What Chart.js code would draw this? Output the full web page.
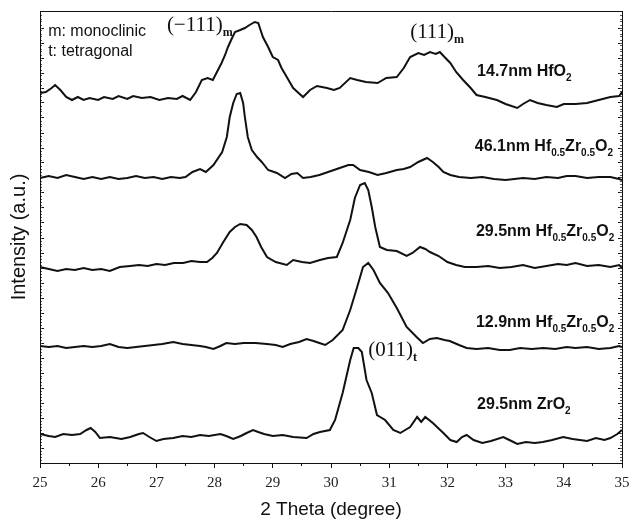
<!DOCTYPE html>
<html>
<head>
<meta charset="utf-8">
<script src="https://cdn.jsdelivr.net/npm/chart.js@4/dist/chart.umd.min.js"></script>
<style>
html,body{margin:0;padding:0;background:#fff}
#wrap{width:632px;height:521px;position:relative}
</style>
</head>
<body>
<div id="wrap"><canvas id="c"></canvas></div>
<script>
// ---- data (2θ in degrees, intensity in arbitrary units, traces offset vertically as in the figure) ----
const xTickLabels = ['25','26','27','28','29','30','31','32','33','34','35'];
const xAxisTitle = '2 Theta (degree)';
const yAxisTitle = 'Intensity (a.u.)';

const hfo2_14_7nm = [
[25.0,370],[25.1,371],[25.2,375],[25.26,378],[25.35,373],[25.45,366],[25.55,363],[25.65,366],[25.75,363],[25.85,365],
[26.0,363],[26.1,366],[26.25,364],[26.35,367],[26.5,364],[26.6,367],[26.75,365],[26.9,366],[27.05,363],[27.2,365],
[27.35,364],[27.45,367],[27.58,363],[27.68,371],[27.78,383],[27.88,385],[27.97,383],[28.04,391],[28.12,400],[28.18,408],
[28.23,416],[28.3,425],[28.35,431],[28.44,433],[28.52,435],[28.6,438],[28.69,441],[28.75,440],[28.83,426],[28.92,416],
[29.0,406],[29.09,403],[29.15,395],[29.24,386],[29.35,375],[29.52,366],[29.64,373],[29.76,377],[29.93,375],[30.05,373],
[30.15,375],[30.33,385],[30.45,383],[30.6,381],[30.8,380],[30.95,385],[31.13,386],[31.25,395],[31.36,406],[31.5,410],
[31.6,408],[31.7,411],[31.8,409],[31.87,411],[31.95,406],[32.05,400],[32.15,391],[32.27,383],[32.4,375],[32.5,368],
[32.65,366],[32.85,363],[33.0,359],[33.2,355],[33.3,359],[33.42,363],[33.55,360],[33.7,358],[33.88,356],[34.0,359],
[34.2,359],[34.4,360],[34.6,363],[34.8,366],[34.95,367],[35.0,371]
];

const hzo_46_1nm = [
[25.0,285],[25.15,287],[25.3,285],[25.45,288],[25.6,286],[25.75,284],[25.9,286],[26.05,284],[26.2,286],[26.35,284],
[26.5,285],[26.65,287],[26.8,285],[26.95,286],[27.1,284],[27.25,286],[27.4,285],[27.5,286],[27.62,291],[27.75,294],
[27.85,291],[27.98,298],[28.13,311],[28.21,326],[28.26,346],[28.32,360],[28.38,369],[28.44,370],[28.49,360],[28.52,346],
[28.57,326],[28.64,313],[28.73,306],[28.81,301],[28.92,293],[29.07,290],[29.21,285],[29.32,289],[29.42,290],[29.52,285],
[29.65,286],[29.8,288],[29.95,291],[30.05,293],[30.2,296],[30.3,298],[30.38,298],[30.5,293],[30.65,291],[30.8,288],
[30.95,290],[31.13,293],[31.25,294],[31.36,296],[31.5,301],[31.65,305],[31.75,301],[31.85,296],[31.93,291],[32.05,288],
[32.2,286],[32.4,285],[32.6,286],[32.8,284],[33.0,283],[33.15,284],[33.3,285],[33.5,284],[33.7,286],[33.9,285],
[34.05,287],[34.2,287],[34.4,285],[34.6,286],[34.8,286],[34.95,284],[35.0,283]
];

const hzo_29_5nm = [
[25.0,196],[25.15,194],[25.3,192],[25.45,194],[25.6,193],[25.75,195],[25.9,193],[26.05,194],[26.2,192],[26.37,196],
[26.55,197],[26.7,198],[26.85,197],[27.0,199],[27.15,198],[27.3,200],[27.46,200],[27.6,202],[27.75,201],[27.87,201],
[27.96,205],[28.04,210],[28.15,221],[28.26,231],[28.35,236],[28.44,239],[28.55,238],[28.64,233],[28.72,226],[28.8,216],
[28.9,206],[29.05,201],[29.24,198],[29.35,203],[29.5,201],[29.64,200],[29.81,203],[29.95,205],[30.1,206],[30.2,220],
[30.33,243],[30.41,265],[30.5,278],[30.58,280],[30.64,273],[30.7,256],[30.76,236],[30.84,216],[30.96,213],[31.13,212],
[31.3,207],[31.4,210],[31.53,216],[31.62,214],[31.7,211],[31.85,207],[32.0,201],[32.15,198],[32.3,196],[32.5,196],
[32.7,197],[32.9,195],[33.1,196],[33.3,198],[33.5,195],[33.7,197],[33.9,199],[34.05,198],[34.2,200],[34.4,197],
[34.6,198],[34.8,196],[34.95,198],[35.0,195]
];

const hzo_12_9nm = [
[25.0,117],[25.15,116],[25.3,117],[25.45,115],[25.6,116],[25.75,117],[25.9,116],[26.05,117],[26.2,119],[26.35,116],
[26.5,115],[26.65,116],[26.8,117],[26.95,118],[27.1,119],[27.29,121],[27.45,119],[27.6,118],[27.75,117],[27.85,116],
[27.98,114],[28.1,117],[28.2,120],[28.35,119],[28.5,120],[28.7,120],[28.9,119],[29.05,118],[29.17,116],[29.3,119],
[29.45,121],[29.58,124],[29.7,122],[29.8,120],[29.9,118],[30.03,123],[30.2,133],[30.33,153],[30.45,176],[30.55,196],
[30.64,200],[30.73,193],[30.84,180],[30.98,170],[31.13,155],[31.3,136],[31.47,126],[31.58,120],[31.7,124],[31.82,125],
[31.95,123],[32.04,122],[32.2,118],[32.33,115],[32.5,114],[32.7,115],[32.9,113],[33.07,113],[33.25,115],[33.45,114],
[33.65,115],[33.85,114],[34.05,116],[34.2,115],[34.4,116],[34.6,114],[34.8,115],[34.95,117],[35.0,116]
];

const zro2_29_5nm = [
[25.0,29],[25.15,27],[25.26,26],[25.4,29],[25.55,28],[25.69,29],[25.8,33],[25.87,35],[25.95,31],[26.03,25],
[26.2,26],[26.4,24],[26.55,26],[26.7,29],[26.77,30],[26.88,26],[27.0,22],[27.12,24],[27.29,25],[27.45,27],
[27.6,26],[27.75,28],[27.9,27],[28.1,29],[28.2,27],[28.32,24],[28.45,27],[28.55,30],[28.66,33],[28.75,31],
[28.85,29],[29.0,27],[29.17,28],[29.35,26],[29.58,25],[29.7,29],[29.81,31],[29.98,33],[30.07,43],[30.2,70],
[30.33,103],[30.39,115],[30.47,115],[30.53,111],[30.61,83],[30.7,70],[30.79,48],[30.93,43],[31.07,33],[31.19,30],
[31.36,36],[31.48,46],[31.55,41],[31.62,46],[31.75,40],[31.93,30],[32.05,23],[32.16,21],[32.25,26],[32.33,28],
[32.45,23],[32.6,20],[32.75,22],[32.96,26],[33.1,22],[33.2,19],[33.35,21],[33.5,20],[33.64,21],[33.8,23],
[33.99,26],[34.15,24],[34.4,22],[34.55,25],[34.7,23],[34.8,25],[34.92,29],[35.0,33]
];

const seriesNames = ['14.7nm HfO2','46.1nm Hf0.5Zr0.5O2','29.5nm Hf0.5Zr0.5O2','12.9nm Hf0.5Zr0.5O2','29.5nm ZrO2'];
const seriesData = [hfo2_14_7nm, hzo_46_1nm, hzo_29_5nm, hzo_12_9nm, zro2_29_5nm];

// ---- text annotations (anchored in data coordinates) ----
const SANS = '"Liberation Sans", Arial, sans-serif';
const SERIF = '"Liberation Serif", "Times New Roman", serif';
const labelRuns = (parts) => parts.map(p => typeof p === 'string'
  ? {t: p, font: 'bold 16px ' + SANS, dy: 0}
  : {t: p.s, font: 'bold 10px ' + SANS, dy: 6});
const annotations = [
  {x: 25.14, y: 431, runs: [{t: 'm: monoclinic', font: '16px ' + SANS, dy: 0}]},
  {x: 25.14, y: 411, runs: [{t: 't: tetragonal', font: '16px ' + SANS, dy: 0}]},
  {x: 27.18, y: 438, runs: [{t: '(\u2212111)', font: '21px ' + SERIF, dy: 0}, {t: 'm', font: 'bold 12px ' + SERIF, dy: 8}]},
  {x: 31.36, y: 431, runs: [{t: '(111)', font: '21px ' + SERIF, dy: 0}, {t: 'm', font: 'bold 12px ' + SERIF, dy: 8}]},
  {x: 30.64, y: 113, runs: [{t: '(011)', font: '21px ' + SERIF, dy: 0}, {t: 't', font: 'bold 12px ' + SERIF, dy: 8}]},
  {x: 32.51, y: 391, runs: labelRuns(['14.7nm HfO', {s: '2'}])},
  {x: 32.47, y: 316, runs: labelRuns(['46.1nm Hf', {s: '0.5'}, 'Zr', {s: '0.5'}, 'O', {s: '2'}])},
  {x: 32.49, y: 231, runs: labelRuns(['29.5nm Hf', {s: '0.5'}, 'Zr', {s: '0.5'}, 'O', {s: '2'}])},
  {x: 32.49, y: 140, runs: labelRuns(['12.9nm Hf', {s: '0.5'}, 'Zr', {s: '0.5'}, 'O', {s: '2'}])},
  {x: 32.51, y: 58, runs: labelRuns(['29.5nm ZrO', {s: '2'}])}
];

const annotationPlugin = {
  id: 'annotationText',
  afterDatasetsDraw(chart) {
    const ctx = chart.ctx;
    const xs = chart.scales.x, ys = chart.scales.y;
    ctx.save();
    ctx.fillStyle = '#111';
    ctx.textBaseline = 'middle';
    ctx.textAlign = 'left';
    annotations.forEach(a => {
      let px = xs.getPixelForValue(a.x);
      const py = ys.getPixelForValue(a.y);
      a.runs.forEach(r => {
        ctx.font = r.font;
        ctx.fillText(r.t, px, py + r.dy);
        px += ctx.measureText(r.t).width;
      });
    });
    ctx.restore();
  }
};

const BLACK = '#111';
const fitW = (w) => (s) => { s.width = w; };
const fitH = (h) => (s) => { s.height = h; s.paddingLeft = 0; s.paddingRight = 0; };

new Chart(document.getElementById('c'), {
  type: 'line',
  data: {
    datasets: seriesData.map((d, i) => ({
      label: seriesNames[i],
      data: d.map(p => ({x: p[0], y: p[1]})),
      borderColor: BLACK,
      borderWidth: 2,
      pointRadius: 0,
      tension: 0,
      fill: false
    }))
  },
  options: {
    responsive: true,
    maintainAspectRatio: false,
    animation: false,
    events: [],
    layout: {padding: {top: 11, left: 0, right: 0, bottom: 0}},
    plugins: {legend: {display: false}, tooltip: {enabled: false}},
    scales: {
      x: {
        type: 'linear', position: 'bottom', weight: 1, min: 25, max: 35,
        afterFit: fitH(58),
        ticks: {stepSize: 1, padding: 6, color: '#222', font: {family: SERIF, size: 15},
                callback: (v) => xTickLabels[Math.round(v - 25)]},
        grid: {drawOnChartArea: false, tickLength: 5, color: BLACK, tickColor: BLACK},
        border: {display: true, color: BLACK, width: 1},
        title: {display: true, text: xAxisTitle, color: '#111', font: {family: SANS, size: 19}, padding: {top: -4, bottom: 0}}
      },
      xMinor: {
        type: 'linear', position: 'bottom', weight: 0, min: 25, max: 35,
        afterFit: fitH(0),
        ticks: {display: false, stepSize: 0.5},
        grid: {drawOnChartArea: false, tickLength: 3, color: BLACK, tickColor: BLACK},
        border: {display: false}
      },
      xTop: {
        type: 'linear', position: 'top', min: 25, max: 35,
        afterFit: fitH(0),
        ticks: {display: false},
        grid: {display: false, drawTicks: false},
        border: {display: true, color: BLACK, width: 1}
      },
      y: {
        type: 'linear', position: 'left', weight: 1, min: 0, max: 452,
        afterFit: fitW(40),
        ticks: {display: false, stepSize: 15},
        grid: {drawOnChartArea: false, tickLength: -4, color: BLACK, tickColor: BLACK},
        border: {display: true, color: BLACK, width: 1},
        title: {display: true, text: yAxisTitle, color: '#111', font: {family: SANS, size: 20}, padding: {top: 7, bottom: 0}}
      },
      yMinor: {
        type: 'linear', position: 'left', weight: 0, min: 0, max: 452,
        afterFit: fitW(0),
        ticks: {display: false, stepSize: 3},
        grid: {drawOnChartArea: false, tickLength: -2, color: '#555', tickColor: '#555'},
        border: {display: false}
      },
      yR: {
        type: 'linear', position: 'right', weight: 1, min: 0, max: 452,
        afterFit: fitW(10),
        ticks: {display: false, stepSize: 15},
        grid: {drawOnChartArea: false, tickLength: -4, color: BLACK, tickColor: BLACK},
        border: {display: true, color: BLACK, width: 1}
      },
      yRMinor: {
        type: 'linear', position: 'right', weight: 0, min: 0, max: 452,
        afterFit: fitW(0),
        ticks: {display: false, stepSize: 3},
        grid: {drawOnChartArea: false, tickLength: -2, color: '#555', tickColor: '#555'},
        border: {display: false}
      }
    }
  },
  plugins: [annotationPlugin]
});
</script>
</body>
</html>
